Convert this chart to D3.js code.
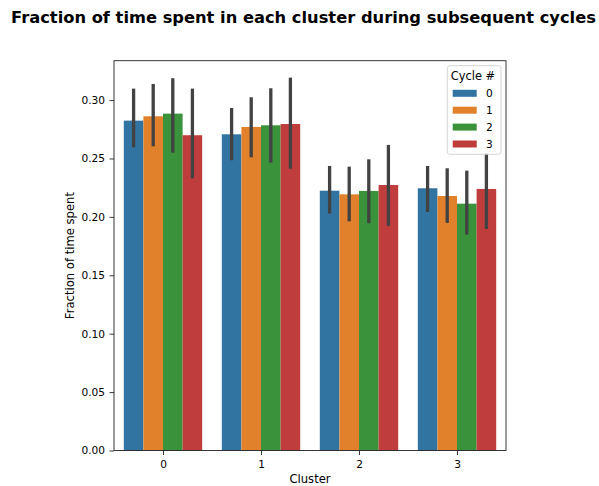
<!DOCTYPE html>
<html>
<head>
<meta charset="utf-8">
<script src="https://cdn.jsdelivr.net/npm/d3@7"></script>
<style>
  html, body { margin: 0; padding: 0; background: #fff; }
  svg { display: block; font-family: "DejaVu Sans", sans-serif; }
</style>
</head>
<body>
<svg id="chart" width="599" height="486"></svg>
<script>
// Mean fraction of time per cluster, one series per cycle, with CI bounds.
const clusters = ["0", "1", "2", "3"];
const cycles = ["0", "1", "2", "3"];
const means = [
  [0.2824, 0.2861, 0.2884, 0.2699],
  [0.2707, 0.2770, 0.2784, 0.2795],
  [0.2224, 0.2193, 0.2222, 0.2273],
  [0.2245, 0.2179, 0.2113, 0.2239]
];
const ciLow = [
  [0.2596, 0.2604, 0.2550, 0.2330],
  [0.2485, 0.2510, 0.2464, 0.2413],
  [0.2028, 0.1962, 0.1945, 0.1922],
  [0.2042, 0.1948, 0.1848, 0.1896]
];
const ciHigh = [
  [0.3098, 0.3138, 0.3187, 0.3098],
  [0.2932, 0.3024, 0.3101, 0.3192],
  [0.2436, 0.2430, 0.2493, 0.2616],
  [0.2436, 0.2416, 0.2396, 0.2545]
];
const yTicks = [0.00, 0.05, 0.10, 0.15, 0.20, 0.25, 0.30];
const colors = ["#3274a1", "#e1812c", "#3a923a", "#c03d3e"];

const svg = d3.select("#chart");
const m = { left: 114, right: 506, top: 60.7, bottom: 450.5 };

const x = d3.scaleLinear().domain([-0.5, 3.5]).range([m.left, m.right]);
const y = d3.scaleLinear().domain([0, 0.3337]).range([m.bottom, m.top]);
const barW = 0.8 / cycles.length;

const rows = [];
clusters.forEach((c, i) => cycles.forEach((k, j) => {
  rows.push({ ci: i, cj: j, mean: means[i][j], lo: ciLow[i][j], hi: ciHigh[i][j] });
}));
const barLeft = d => x(d.ci - 0.4 + d.cj * barW);
const barMid = d => x(d.ci - 0.4 + (d.cj + 0.5) * barW);

// Bars
svg.append("g").selectAll("rect").data(rows).join("rect")
  .attr("x", barLeft)
  .attr("width", x(barW) - x(0))
  .attr("y", d => y(d.mean))
  .attr("height", d => y(0) - y(d.mean))
  .attr("fill", d => colors[d.cj]);

// Error bars
svg.append("g").selectAll("line").data(rows).join("line")
  .attr("x1", barMid).attr("x2", barMid)
  .attr("y1", d => y(d.lo)).attr("y2", d => y(d.hi))
  .attr("stroke", "#424242").attr("stroke-width", 3.3);

// Frame
svg.append("rect")
  .attr("x", m.left).attr("y", m.top)
  .attr("width", m.right - m.left).attr("height", m.bottom - m.top)
  .attr("fill", "none").attr("stroke", "#222").attr("stroke-width", 0.9);

// Y axis
const yAxis = d3.axisLeft(y).tickValues(yTicks).tickFormat(d3.format(".2f")).tickSize(4.5).tickPadding(4.5);
const gy = svg.append("g").attr("transform", `translate(${m.left},0)`).call(yAxis);
gy.select(".domain").remove();
gy.selectAll("text").attr("font-size", 10.6).attr("fill", "#000").attr("font-family", "DejaVu Sans");
gy.selectAll("line").attr("stroke", "#222").attr("stroke-width", 0.9);

// X axis
const xAxis = d3.axisBottom(x).tickValues(clusters.map((c, i) => i)).tickFormat(i => clusters[i]).tickSize(4.5).tickPadding(5);
const gx = svg.append("g").attr("transform", `translate(0,${m.bottom})`).call(xAxis);
gx.select(".domain").remove();
gx.selectAll("text").attr("font-size", 10.6).attr("fill", "#000").attr("font-family", "DejaVu Sans");
gx.selectAll("line").attr("stroke", "#222").attr("stroke-width", 0.9);

// Axis labels
svg.append("text").attr("x", (m.left + m.right) / 2).attr("y", 483.3)
  .attr("text-anchor", "middle").attr("font-size", 11.6).text("Cluster");
svg.append("text")
  .attr("transform", `translate(73.5,${(m.top + m.bottom) / 2}) rotate(-90)`)
  .attr("text-anchor", "middle").attr("font-size", 11.6).text("Fraction of time spent");

// Title
svg.append("text").attr("x", 303.5).attr("y", 23)
  .attr("text-anchor", "middle").attr("font-size", 16.3).attr("font-weight", "bold")
  .text("Fraction of time spent in each cluster during subsequent cycles");

// Legend
const lg = svg.append("g");
lg.append("rect").attr("x", 447.3).attr("y", 65.7).attr("width", 53.7).attr("height", 88.6)
  .attr("rx", 2.5).attr("fill", "#fff").attr("fill-opacity", 0.8)
  .attr("stroke", "#d0d0d0").attr("stroke-width", 0.9);
lg.append("text").attr("x", 473).attr("y", 80).attr("text-anchor", "middle")
  .attr("font-size", 11.4).text("Cycle #");
cycles.forEach((k, j) => {
  const cy = 93.3 + j * 16.9;
  lg.append("rect").attr("x", 452.7).attr("y", cy - 3.5).attr("width", 24).attr("height", 7)
    .attr("fill", colors[j]);
  lg.append("text").attr("x", 486).attr("y", cy + 3.6).attr("font-size", 10.6).text(k);
});
</script>
</body>
</html>
